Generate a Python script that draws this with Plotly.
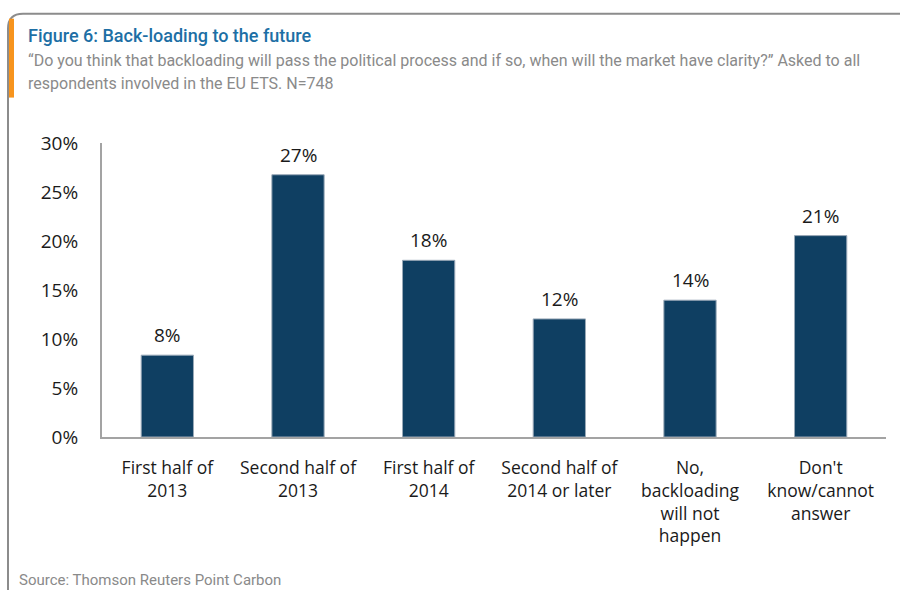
import plotly.graph_objects as go

# Survey responses (share of respondents, %)
categories = [
    "First half of<br>2013",
    "Second half of<br>2013",
    "First half of<br>2014",
    "Second half of<br>2014 or later",
    "No,<br>backloading<br>will not<br>happen",
    "Don't<br>know/cannot<br>answer",
]
shares = [8.35, 26.76, 18.03, 12.05, 13.96, 20.55]
y_ticks = [0, 5, 10, 15, 20, 25, 30]
y_tick_labels = [f"{t}%" for t in y_ticks]

W, H = 900, 590
M_L, M_R, M_T, M_B = 102, 14, 142.5, 153
PW, PH = W - M_L - M_R, H - M_T - M_B


def px(x):
    return (x - M_L) / PW


def py(y):
    return (H - M_B - y) / PH


BAR = "#0f3f62"
TEXT = "#1a1a1a"
BODY_FONT = "Open Sans, Liberation Sans, sans-serif"

fig = go.Figure(
    go.Bar(
        x=categories,
        y=shares,
        width=0.4,
        marker=dict(color=BAR, line=dict(color="#9aa9b8", width=1)),
        cliponaxis=False,
    )
)

# Value labels above each bar
for cat, v in zip(categories, shares):
    fig.add_annotation(
        x=cat, y=v, text=f"{v:.0f}%",
        showarrow=False, yanchor="middle", yshift=20,
        font=dict(family=BODY_FONT, size=19, color=TEXT),
    )

fig.update_layout(
    width=W,
    height=H,
    margin=dict(l=M_L, r=M_R, t=M_T, b=M_B),
    paper_bgcolor="white",
    plot_bgcolor="white",
    showlegend=False,
    font=dict(family=BODY_FONT, color=TEXT),
)

fig.update_yaxes(
    range=[0, 30],
    tickvals=y_ticks,
    ticktext=y_tick_labels,
    showgrid=False,
    zeroline=False,
    showline=True,
    linecolor="#a3a3a3",
    linewidth=2,
    ticks="",
    ticklabelstandoff=18,
    tickfont=dict(size=19, color=TEXT),
)
fig.update_xaxes(
    showgrid=False,
    showline=True,
    linecolor="#a3a3a3",
    linewidth=2,
    ticks="",
    ticklabelstandoff=14,
    tickfont=dict(size=17.5, color=TEXT),
)

# Frame with rounded top-left corner
fig.add_shape(
    type="path",
    xref="paper",
    yref="paper",
    path=(
        f"M {px(8)} {py(595)} L {px(8)} {py(28)} "
        f"Q {px(8)} {py(13)} {px(23)} {py(13)} L {px(905)} {py(13)}"
    ),
    line=dict(color="#8c8c8c", width=2),
)
# Orange accent bar next to the heading
fig.add_shape(
    type="rect",
    xref="paper",
    yref="paper",
    x0=px(9), x1=px(14), y0=py(97), y1=py(18),
    fillcolor="#f7941d",
    line=dict(width=0),
)

fig.add_annotation(
    text="Figure 6: Back-loading to the future",
    xref="paper", yref="paper",
    x=px(26), y=py(35),
    xanchor="left", yanchor="middle",
    showarrow=False,
    font=dict(family="Roboto, sans-serif", size=18, weight=500, color="#1d6fa5"),
)
fig.add_annotation(
    text="\u201cDo you think that backloading will pass the political process and if so, when will the market have clarity?\u201d Asked to all",
    xref="paper", yref="paper",
    x=px(26), y=py(60),
    xanchor="left", yanchor="middle",
    showarrow=False,
    font=dict(family="Roboto, sans-serif", size=16, color="#8a8a8a"),
)
fig.add_annotation(
    text="respondents involved in the EU ETS. N=748",
    xref="paper", yref="paper",
    x=px(26), y=py(83),
    xanchor="left", yanchor="middle",
    showarrow=False,
    font=dict(family="Roboto, sans-serif", size=16, color="#8a8a8a"),
)
fig.add_annotation(
    text="Source: Thomson Reuters Point Carbon",
    xref="paper", yref="paper",
    x=px(17), y=py(580),
    xanchor="left", yanchor="middle",
    showarrow=False,
    font=dict(family="Roboto, sans-serif", size=15, color="#8a8a8a"),
)

fig.write_html("out.html")
